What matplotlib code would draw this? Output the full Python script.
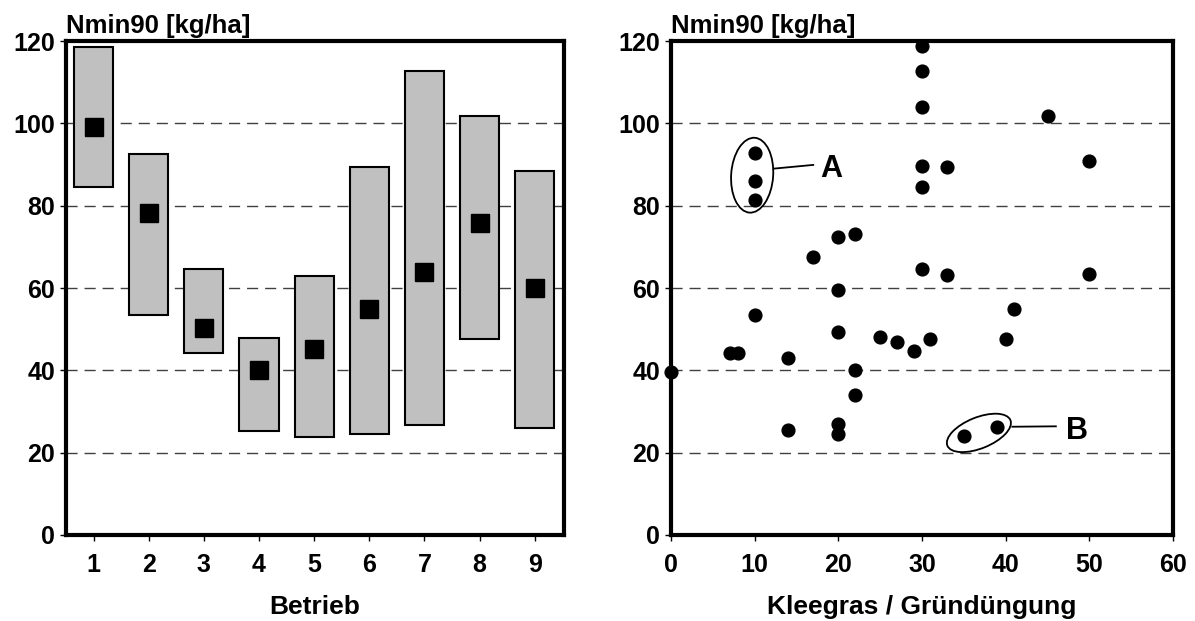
import matplotlib
matplotlib.use("Agg")
import matplotlib.pyplot as plt
from matplotlib.patches import Ellipse
from matplotlib.transforms import ScaledTranslation

plt.rcParams['font.family'] = ['Liberation Sans', 'DejaVu Sans']
plt.rcParams['font.weight'] = 'bold'

# left panel: range per farm and mean
betrieb = [1, 2, 3, 4, 5, 6, 7, 8, 9]
box_min = [84.5, 53.5, 44.1, 25.2, 23.9, 24.6, 26.7, 47.5, 26.0]
box_max = [118.5, 92.5, 64.6, 47.8, 63.0, 89.3, 112.6, 101.7, 88.3]
box_mean = [99.2, 78.3, 50.2, 40.2, 45.3, 54.8, 64.0, 75.9, 59.9]

# right panel: Kleegras share vs Nmin90
klee = [30, 30, 30, 45, 10, 30, 33, 50, 10, 30, 10, 22, 20, 17, 30, 33, 50,
        20, 41, 10, 20, 25, 27, 31, 40, 29, 7, 8, 14, 0, 22, 22, 14, 20, 20,
        35, 39]
nmin = [118.7, 112.7, 104.0, 101.8, 92.7, 89.6, 89.4, 90.8, 85.9, 84.6, 81.3,
        73.1, 72.4, 67.6, 64.7, 63.2, 63.5, 59.4, 55.0, 53.5, 49.2, 48.0, 47.0,
        47.5, 47.7, 44.7, 44.3, 44.3, 43.0, 39.5, 40.0, 33.9, 25.4, 26.9, 24.6,
        24.0, 26.2]

yticks = [0, 20, 40, 60, 80, 100, 120]
grid_y = [20, 40, 60, 80, 100]

fig = plt.figure(figsize=(11.95, 6.21), dpi=100)
ax1 = fig.add_axes([66/1195, 1-535/621, 498/1195, 494/621])
ax2 = fig.add_axes([671/1195, 1-535/621, 502/1195, 494/621])

def style(ax):
    for s in ax.spines.values():
        s.set_linewidth(3)
    ax.set_ylim(0, 120)
    ax.set_yticks(yticks)
    for g in grid_y:
        ax.axhline(g, color='#404040', lw=1, dashes=(8, 5), zorder=0)
    ax.tick_params(direction='out', length=4, width=1, labelsize=18, pad=4)
    ax.text(0.0, 1.006, 'Nmin90 [kg/ha]', transform=ax.transAxes,
            ha='left', va='bottom', fontsize=18.5, fontweight='bold')

# left
style(ax1)
heights = [hi - lo for hi, lo in zip(box_max, box_min)]
ax1.bar(betrieb, heights, bottom=box_min, width=0.71, color='#C0C0C0',
        edgecolor='black', linewidth=1.5, zorder=2)
ax1.plot(betrieb, box_mean, 's', color='black', markersize=13, zorder=3)
ax1.set_xlim(0.5, 9.53)
ax1.set_xticks(betrieb)
ax1.tick_params(axis='x', pad=9)
ax1.set_xlabel('Betrieb', fontsize=19, fontweight='bold', labelpad=13)

# right
style(ax2)
ax2.plot(klee, nmin, 'o', color='black', markersize=9.2, zorder=3, clip_on=False)
ax2.set_xlim(0, 60)
ax2.set_xticks([0, 10, 20, 30, 40, 50, 60])
ax2.tick_params(axis='x', pad=9)
ax2.set_xlabel('Kleegras / Gründüngung', fontsize=19, fontweight='bold', labelpad=13)

# group markers A and B
def ring(ax, cx, cy, w, h, ang):
    tr = fig.dpi_scale_trans + ScaledTranslation(cx, cy, ax.transData)
    ax.add_patch(Ellipse((0, 0), w, h, angle=ang, transform=tr, fill=False,
                         edgecolor='black', lw=1.3, zorder=4))

ring(ax2, 9.7, 87.4, 0.42, 0.75, -4)
ax2.plot([12.3, 17.0], [89.0, 89.9], color='black', lw=1.3)
ax2.text(19.1, 89.0, 'A', fontsize=22, fontweight='bold', ha='center', va='center')

ring(ax2, 36.8, 24.8, 0.68, 0.31, 22)
ax2.plot([40.8, 46.0], [26.3, 26.4], color='black', lw=1.3)
ax2.text(48.5, 25.3, 'B', fontsize=22, fontweight='bold', ha='center', va='center')

fig.savefig('out.png', dpi=100)
